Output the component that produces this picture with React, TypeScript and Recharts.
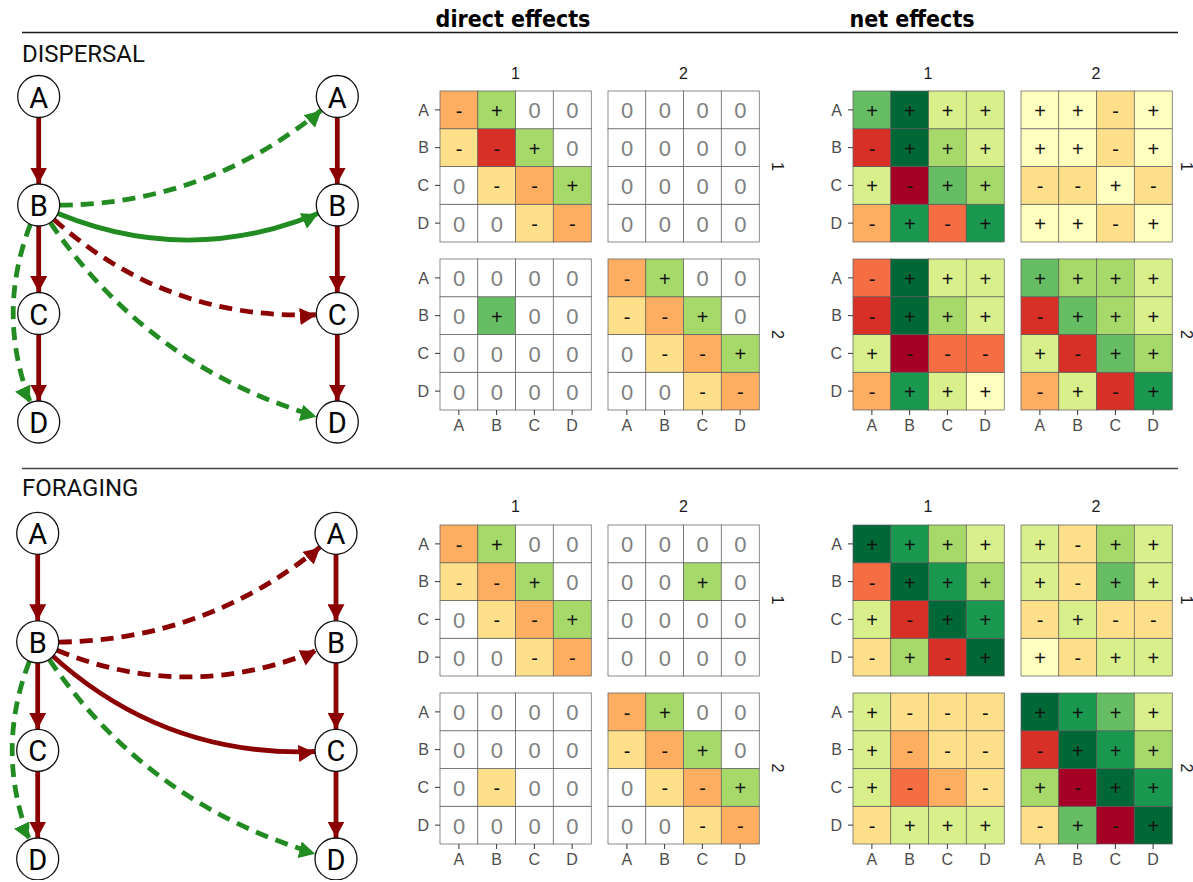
import React from "react";
import {
  BarChart, Bar, XAxis, YAxis, ComposedChart, Line, Scatter,
} from "recharts";

// species / time steps
const SPECIES = ["A", "B", "C", "D"];
const STEPS = ["1", "2"];

// effect matrices, rows = effect on (A..D), cols = effect of (A..D)
// value sign -> label, magnitude -> colour bin (RdYlGn, -5..5)
const DISPERSAL_DIRECT_11 = [[-2, 2, 0, 0], [-1, -4, 2, 0], [0, -1, -2, 2], [0, 0, -1, -2]];
const DISPERSAL_DIRECT_12 = [[0, 0, 0, 0], [0, 0, 0, 0], [0, 0, 0, 0], [0, 0, 0, 0]];
const DISPERSAL_DIRECT_21 = [[0, 0, 0, 0], [0, 3, 0, 0], [0, 0, 0, 0], [0, 0, 0, 0]];
const DISPERSAL_DIRECT_22 = [[-2, 2, 0, 0], [-1, -2, 2, 0], [0, -1, -2, 2], [0, 0, -1, -2]];
const DISPERSAL_NET_11 = [[3, 5, 1, 1], [-4, 5, 2, 1], [1, -5, 3, 2], [-2, 4, -3, 4]];
const DISPERSAL_NET_12 = [[0.2, 0.2, -1, 0.2], [0.2, 0.2, -1, 0.2], [-1, -1, 0.2, -1], [0.2, 0.2, -1, 0.2]];
const DISPERSAL_NET_21 = [[-3, 5, 1, 1], [-4, 5, 2, 1], [1, -5, -3, -3], [-2, 4, 1, 0.2]];
const DISPERSAL_NET_22 = [[3, 2, 2, 1], [-4, 3, 2, 1], [1, -4, 3, 2], [-2, 1, -4, 4]];

const FORAGING_DIRECT_11 = [[-2, 2, 0, 0], [-1, -2, 2, 0], [0, -1, -2, 2], [0, 0, -1, -2]];
const FORAGING_DIRECT_12 = [[0, 0, 0, 0], [0, 0, 2, 0], [0, 0, 0, 0], [0, 0, 0, 0]];
const FORAGING_DIRECT_21 = [[0, 0, 0, 0], [0, 0, 0, 0], [0, -1, 0, 0], [0, 0, 0, 0]];
const FORAGING_DIRECT_22 = [[-2, 2, 0, 0], [-1, -2, 2, 0], [0, -1, -2, 2], [0, 0, -1, -2]];
const FORAGING_NET_11 = [[5, 4, 2, 1], [-3, 5, 4, 2], [1, -4, 5, 4], [-1, 2, -4, 5]];
const FORAGING_NET_12 = [[1, -1, 2, 1], [1, -1, 3, 1], [-1, 1, -1, -1], [0.2, -1, 1, 1]];
const FORAGING_NET_21 = [[1, -1, -1, -1], [1, -2, -1, -1], [1, -3, -2, -1], [-1, 1, 1, 1]];
const FORAGING_NET_22 = [[5, 4, 3, 1], [-4, 5, 4, 2], [2, -5, 5, 4], [-1, 3, -5, 5]];

// interaction graphs: t = 0 (left column) / 1 (right column)
const DISPERSAL_EDGES = [
  { from: "A", fromT: 0, to: "B", toT: 0, sign: -1, lagged: false },
  { from: "B", fromT: 0, to: "C", toT: 0, sign: -1, lagged: false },
  { from: "C", fromT: 0, to: "D", toT: 0, sign: -1, lagged: false },
  { from: "A", fromT: 1, to: "B", toT: 1, sign: -1, lagged: false },
  { from: "B", fromT: 1, to: "C", toT: 1, sign: -1, lagged: false },
  { from: "C", fromT: 1, to: "D", toT: 1, sign: -1, lagged: false },
  { from: "B", fromT: 0, to: "D", toT: 0, sign: 1, lagged: true },
  { from: "B", fromT: 0, to: "A", toT: 1, sign: 1, lagged: true },
  { from: "B", fromT: 0, to: "B", toT: 1, sign: 1, lagged: false },
  { from: "B", fromT: 0, to: "C", toT: 1, sign: -1, lagged: true },
  { from: "B", fromT: 0, to: "D", toT: 1, sign: 1, lagged: true },
];
const FORAGING_EDGES = [
  { from: "A", fromT: 0, to: "B", toT: 0, sign: -1, lagged: false },
  { from: "B", fromT: 0, to: "C", toT: 0, sign: -1, lagged: false },
  { from: "C", fromT: 0, to: "D", toT: 0, sign: -1, lagged: false },
  { from: "A", fromT: 1, to: "B", toT: 1, sign: -1, lagged: false },
  { from: "B", fromT: 1, to: "C", toT: 1, sign: -1, lagged: false },
  { from: "C", fromT: 1, to: "D", toT: 1, sign: -1, lagged: false },
  { from: "B", fromT: 0, to: "D", toT: 0, sign: 1, lagged: true },
  { from: "B", fromT: 0, to: "A", toT: 1, sign: -1, lagged: true },
  { from: "B", fromT: 0, to: "B", toT: 1, sign: -1, lagged: true },
  { from: "B", fromT: 0, to: "C", toT: 1, sign: -1, lagged: false },
  { from: "B", fromT: 0, to: "D", toT: 1, sign: 1, lagged: true },
];

// curvature of the bent arrows (style only)
const BENDS: Record<string, number> = {
  "B0-D0": 0.235, "B0-A1": 0.2, "B0-B1": 0.235, "B0-C1": 0.23, "B0-D1": 0.2,
};

const PALETTE = [
  "#a50026", "#d73027", "#f46d43", "#fdae61", "#fee08b", "#ffffbf",
  "#d9ef8b", "#a6d96a", "#66bd63", "#1a9850", "#006837",
];
const RED = "#8b0000";
const GREEN = "#228b22";
const SANS = "'Liberation Sans', Arial, sans-serif";
const SIZE = 151;

const colorFor = (v: number) =>
  PALETTE[Math.max(-5, Math.min(5, Math.round(v))) + 5];

function HeatCell(props: any) {
  const { x, y, width, height, v, direct } = props;
  const label = v > 0 ? "+" : v < 0 ? "-" : "0";
  const fill = direct && v === 0 ? "#ffffff" : colorFor(v);
  return (
    <g>
      <rect x={x} y={y} width={width} height={height} fill={fill} stroke="#5a5a5a" strokeWidth={0.7} />
      <text
        x={x + width / 2} y={y + height / 2 + 1}
        textAnchor="middle" dominantBaseline="central"
        fontSize={label === "0" ? 22 : 20}
        fill={label === "0" ? "#808080" : "#111"}
        fontFamily={SANS}
      >{label}</text>
    </g>
  );
}

const tickStyle = { fill: "#4d4d4d", fontSize: 16, fontFamily: SANS };

function Facet({ grid, left, top, showX, showY, direct }: any) {
  const YW = 30, XH = 30, M = 1;
  const rows = SPECIES.map(c => ({ col: c, h0: 1, h1: 1, h2: 1, h3: 1 }));
  const width = SIZE + 2 * M + (showY ? YW : 0);
  const height = SIZE + 2 * M + (showX ? XH : 0);
  return (
    <div style={{ position: "absolute", left: left - M - (showY ? YW : 0), top: top - M, width, height, fontFamily: SANS }}>
      <BarChart width={width} height={height} data={rows}
        margin={{ top: M, right: M, bottom: M, left: M }} barCategoryGap={0} barGap={0}>
        <XAxis dataKey="col" hide={!showX} height={XH} tickSize={5} tickMargin={5}
          axisLine={false} tickLine={{ stroke: "#333" }} interval={0}
          fontSize={16} tick={tickStyle} />
        <YAxis type="number" domain={[0, 4]} ticks={[0.5, 1.5, 2.5, 3.5]} hide={!showY}
          width={YW} tickSize={5} tickMargin={6} axisLine={false} tickLine={{ stroke: "#333" }}
          interval={0} fontSize={16} tick={tickStyle}
          tickFormatter={(v: number) => SPECIES[3 - Math.floor(v)]} />
        {[3, 2, 1, 0].map(ri => (
          <Bar key={ri} dataKey={`h${ri}`} stackId="s" isAnimationActive={false}
            shape={(p: any) => (
              <HeatCell {...p} direct={direct} v={grid[ri][SPECIES.indexOf(p.payload.col)]} />
            )} />
        ))}
      </BarChart>
    </div>
  );
}

function FacetGrid({ grids, left, top, direct }: any) {
  const step = SIZE + 17;
  return (
    <>
      {grids.map((row: number[][][], r: number) =>
        row.map((g, c) => (
          <Facet key={`${r}${c}`} grid={g} left={left + c * step} top={top + r * step}
            showX={r === 1} showY={c === 0} direct={direct} />
        )))}
    </>
  );
}

function bowed(bend: number) {
  return (context: any) => {
    let pts: number[][] = [];
    return {
      areaStart() {}, areaEnd() {},
      lineStart() { pts = []; },
      point(x: number, y: number) { pts.push([+x, +y]); },
      lineEnd() {
        if (pts.length < 2) return;
        const p0 = pts[0], p1 = pts[pts.length - 1];
        const dx = p1[0] - p0[0], dy = p1[1] - p0[1];
        const mx = (p0[0] + p1[0]) / 2, my = (p0[1] + p1[1]) / 2;
        context.moveTo(p0[0], p0[1]);
        context.quadraticCurveTo(mx - dy * bend, my + dx * bend, p1[0], p1[1]);
      },
    };
  };
}

function NodeShape(props: any) {
  const { cx, cy, payload } = props;
  return (
    <g>
      <circle cx={cx} cy={cy} r={21} fill="#fff" stroke="#111" strokeWidth={1.3} />
      <text x={cx} y={cy + 1} textAnchor="middle" dominantBaseline="central"
        fontSize={29} fontFamily="Roboto, 'DejaVu Sans', sans-serif" fill="#000">{payload.name}</text>
    </g>
  );
}

function Network({ edges, top, height, margin }: any) {
  const nodes = STEPS.flatMap((_, t) => SPECIES.map((s, i) => ({ x: t, y: i, name: s })));
  return (
    <div style={{ position: "absolute", left: 0, top, width: 380, height }}>
      <ComposedChart width={380} height={height} margin={margin}>
        <XAxis dataKey="x" type="number" domain={[0, 1]} hide />
        <YAxis dataKey="y" type="number" domain={[0, 3]} reversed hide />
        {edges.map((e: any, i: number) => {
          const key = `${e.from}${e.fromT}-${e.to}${e.toT}`;
          const bend = BENDS[key];
          const color = e.sign > 0 ? GREEN : RED;
          return (
            <Line key={i} dataKey="y" isAnimationActive={false}
              data={[
                { x: e.fromT, y: SPECIES.indexOf(e.from) },
                { x: e.toT, y: SPECIES.indexOf(e.to) },
              ]}
              type={bend ? (bowed(bend) as any) : "linear"}
              stroke={color} strokeWidth={4.8}
              strokeDasharray={e.lagged ? "13 8" : undefined}
              dot={false} activeDot={false}
              markerEnd={`url(#arrow-${e.sign > 0 ? "g" : "r"})`} />
          );
        })}
        <Scatter data={nodes} isAnimationActive={false} shape={NodeShape} />
      </ComposedChart>
    </div>
  );
}

export default function App() {
  const dirLeft = 440, netLeft = 852.5;
  const dispTop = 91, foraTop = 524.5;
  const step = SIZE + 17;
  const strips = (left: number, top: number, right: number) => (
    <>
      {STEPS.map((s, c) => (
        <text key={`c${s}`} x={left + c * step + SIZE / 2} y={top - 18} textAnchor="middle"
          dominantBaseline="central" fontSize={16} fill="#1a1a1a">{s}</text>
      ))}
      {STEPS.map((s, r) => (
        <text key={`r${s}`} transform={`translate(${right},${top + r * step + SIZE / 2}) rotate(90)`}
          textAnchor="middle" dominantBaseline="central" fontSize={16} fill="#1a1a1a">{s}</text>
      ))}
    </>
  );
  return (
    <div style={{ position: "absolute", left: 0, top: 0, width: 1193, height: 882, overflow: "hidden", background: "#fff" }}>
      <svg width={0} height={0} style={{ position: "absolute" }}>
        <defs>
          {[["r", RED], ["g", GREEN]].map(([id, c]) => (
            <marker key={id} id={`arrow-${id}`} markerUnits="userSpaceOnUse" viewBox="0 0 16 17"
              markerWidth={16} markerHeight={17} refX={16 + 21.5} refY={8.5} orient="auto">
              <path d="M0,0 L16,8.5 L0,17 Z" fill={c} />
            </marker>
          ))}
        </defs>
      </svg>
      <svg width={1193} height={882} style={{ position: "absolute", left: 0, top: 0, fontFamily: SANS }}>
        <text x={513} y={27} textAnchor="middle" fontSize={23} fontWeight="bold"
          fontFamily="'Liberation Sans Narrow', 'DejaVu Sans Condensed', sans-serif">direct effects</text>
        <text x={912} y={27} textAnchor="middle" fontSize={23} fontWeight="bold"
          fontFamily="'Liberation Sans Narrow', 'DejaVu Sans Condensed', sans-serif">net effects</text>
        <line x1={22} x2={1178} y1={32.5} y2={32.5} stroke="#1a1a1a" strokeWidth={1.4} />
        <line x1={22} x2={1178} y1={468.5} y2={468.5} stroke="#444" strokeWidth={1.4} />
        <text x={22} y={62} fontSize={24} fontFamily="Roboto, sans-serif" fill="#111">DISPERSAL</text>
        <text x={22} y={496} fontSize={24} fontFamily="Roboto, sans-serif" fill="#111">FORAGING</text>
        {strips(dirLeft, dispTop, 777)}
        {strips(netLeft, dispTop, 1186)}
        {strips(dirLeft, foraTop, 777)}
        {strips(netLeft, foraTop, 1186)}
      </svg>
      <Network edges={DISPERSAL_EDGES} top={60} height={400}
        margin={{ top: 36.5, bottom: 38, left: 38.7, right: 42.7 }} />
      <Network edges={FORAGING_EDGES} top={495} height={385}
        margin={{ top: 38.3, bottom: 21, left: 37.7, right: 44 }} />
      <FacetGrid left={dirLeft} top={dispTop} direct
        grids={[[DISPERSAL_DIRECT_11, DISPERSAL_DIRECT_12], [DISPERSAL_DIRECT_21, DISPERSAL_DIRECT_22]]} />
      <FacetGrid left={netLeft} top={dispTop}
        grids={[[DISPERSAL_NET_11, DISPERSAL_NET_12], [DISPERSAL_NET_21, DISPERSAL_NET_22]]} />
      <FacetGrid left={dirLeft} top={foraTop} direct
        grids={[[FORAGING_DIRECT_11, FORAGING_DIRECT_12], [FORAGING_DIRECT_21, FORAGING_DIRECT_22]]} />
      <FacetGrid left={netLeft} top={foraTop}
        grids={[[FORAGING_NET_11, FORAGING_NET_12], [FORAGING_NET_21, FORAGING_NET_22]]} />
    </div>
  );
}
